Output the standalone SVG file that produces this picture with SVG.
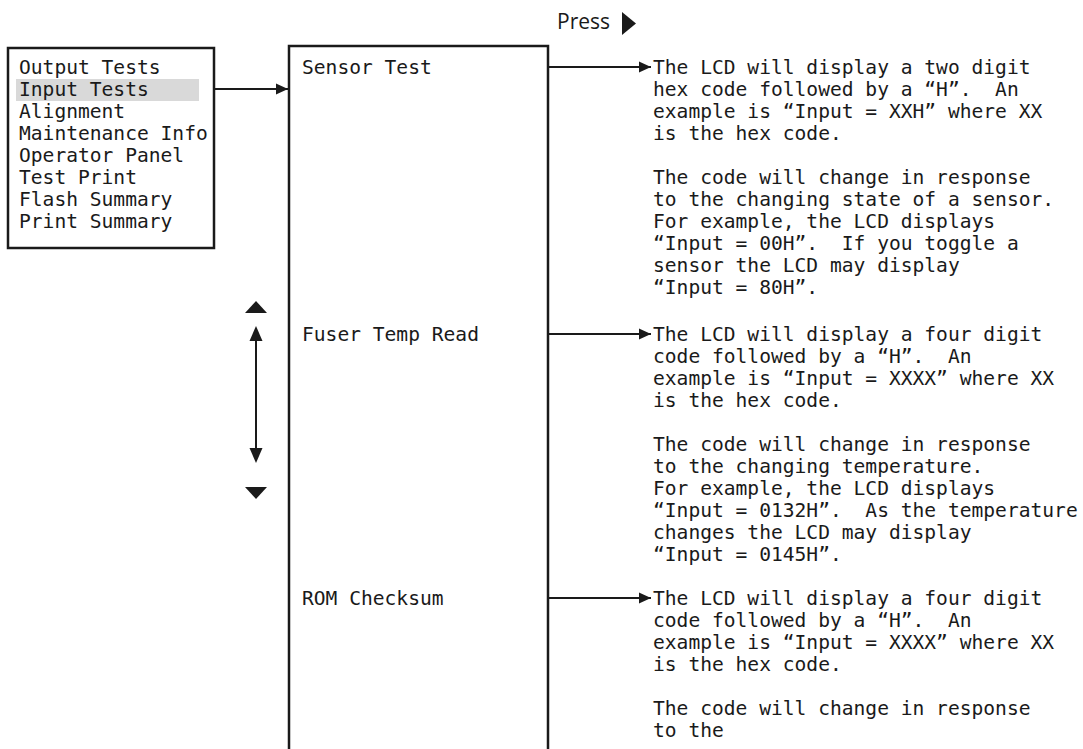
<svg xmlns="http://www.w3.org/2000/svg" width="1083" height="749" viewBox="0 0 1083 749">
  <style>
    .mono { font-family: "DejaVu Sans Mono", "Liberation Mono", monospace; font-size: 19.6px; fill: #1a1a1a; white-space: pre; }
    .label { font-family: "Open Sans", "DejaVu Sans", sans-serif; font-size: 21px; fill: #1a1a1a; }
    .frame { fill: none; stroke: #1a1a1a; stroke-width: 2.5; }
    .link { fill: none; stroke: #1a1a1a; stroke-width: 2; }
    .solid { fill: #1a1a1a; }
  </style>
  <defs>
    <marker id="head" viewBox="0 0 12 12" refX="12" refY="6" markerWidth="12" markerHeight="12" markerUnits="userSpaceOnUse" orient="auto">
      <path d="M0,0.5 L12,6 L0,11.5 Z" class="solid"/>
    </marker>
  </defs>

  <!-- Press key hint -->
  <g id="press">
    <text class="label" x="557" y="29">Press</text>
    <path class="solid" d="M622,12 L636,23.5 L622,35 Z"/>
  </g>

  <!-- Menu list -->
  <g id="menu">
    <rect class="frame" x="8" y="48" width="206" height="200"/>
    <rect x="16" y="79" width="183" height="22" fill="#d9d9d9"/>
    <text class="mono" x="19" y="74">Output Tests</text>
    <text class="mono" x="19" y="96">Input Tests</text>
    <text class="mono" x="19" y="118">Alignment</text>
    <text class="mono" x="19" y="140">Maintenance Info</text>
    <text class="mono" x="19" y="162">Operator Panel</text>
    <text class="mono" x="19" y="184">Test Print</text>
    <text class="mono" x="19" y="206">Flash Summary</text>
    <text class="mono" x="19" y="228">Print Summary</text>
  </g>

  <!-- Input tests submenu column -->
  <g id="submenu">
    <path class="frame" d="M289,760 V46 H548 V760"/>
    <text class="mono" x="302" y="74">Sensor Test</text>
    <text class="mono" x="302" y="341">Fuser Temp Read</text>
    <text class="mono" x="302" y="605">ROM Checksum</text>
  </g>

  <!-- Scroll indicators -->
  <g id="scroll">
    <path class="solid" d="M256,301 L267,313 L245,313 Z"/>
    <path class="solid" d="M245,487 L267,487 L256,499 Z"/>
    <path class="solid" d="M256,326 L262.5,341 L249.5,341 Z"/>
    <path class="solid" d="M249.5,448 L262.5,448 L256,463 Z"/>
    <line class="link" x1="256" y1="338" x2="256" y2="451"/>
  </g>

  <!-- Sensor test description -->
  <g id="sensor-desc">
    <text class="mono" x="653" y="74">The LCD will display a two digit</text>
    <text class="mono" x="653" y="96">hex code followed by a “H”.  An</text>
    <text class="mono" x="653" y="118">example is “Input = XXH” where XX</text>
    <text class="mono" x="653" y="140">is the hex code.</text>
    <text class="mono" x="653" y="184">The code will change in response</text>
    <text class="mono" x="653" y="206">to the changing state of a sensor.</text>
    <text class="mono" x="653" y="228">For example, the LCD displays</text>
    <text class="mono" x="653" y="250">“Input = 00H”.  If you toggle a</text>
    <text class="mono" x="653" y="272">sensor the LCD may display</text>
    <text class="mono" x="653" y="294">“Input = 80H”.</text>
  </g>

  <!-- Fuser temperature description -->
  <g id="fuser-desc">
    <text class="mono" x="653" y="341">The LCD will display a four digit</text>
    <text class="mono" x="653" y="363">code followed by a “H”.  An</text>
    <text class="mono" x="653" y="385">example is “Input = XXXX” where XX</text>
    <text class="mono" x="653" y="407">is the hex code.</text>
    <text class="mono" x="653" y="451">The code will change in response</text>
    <text class="mono" x="653" y="473">to the changing temperature.</text>
    <text class="mono" x="653" y="495">For example, the LCD displays</text>
    <text class="mono" x="653" y="517">“Input = 0132H”.  As the temperature</text>
    <text class="mono" x="653" y="539">changes the LCD may display</text>
    <text class="mono" x="653" y="561">“Input = 0145H”.</text>
  </g>

  <!-- ROM checksum description -->
  <g id="rom-desc">
    <text class="mono" x="653" y="605">The LCD will display a four digit</text>
    <text class="mono" x="653" y="627">code followed by a “H”.  An</text>
    <text class="mono" x="653" y="649">example is “Input = XXXX” where XX</text>
    <text class="mono" x="653" y="671">is the hex code.</text>
    <text class="mono" x="653" y="715">The code will change in response</text>
    <text class="mono" x="653" y="737">to the</text>
  </g>

  <!-- Connectors -->
  <g id="connectors">
    <line class="link" x1="214" y1="89" x2="288" y2="89" marker-end="url(#head)"/>
    <line class="link" x1="548" y1="67" x2="651" y2="67" marker-end="url(#head)"/>
    <line class="link" x1="548" y1="334" x2="651" y2="334" marker-end="url(#head)"/>
    <line class="link" x1="548" y1="598" x2="651" y2="598" marker-end="url(#head)"/>
  </g>
</svg>
